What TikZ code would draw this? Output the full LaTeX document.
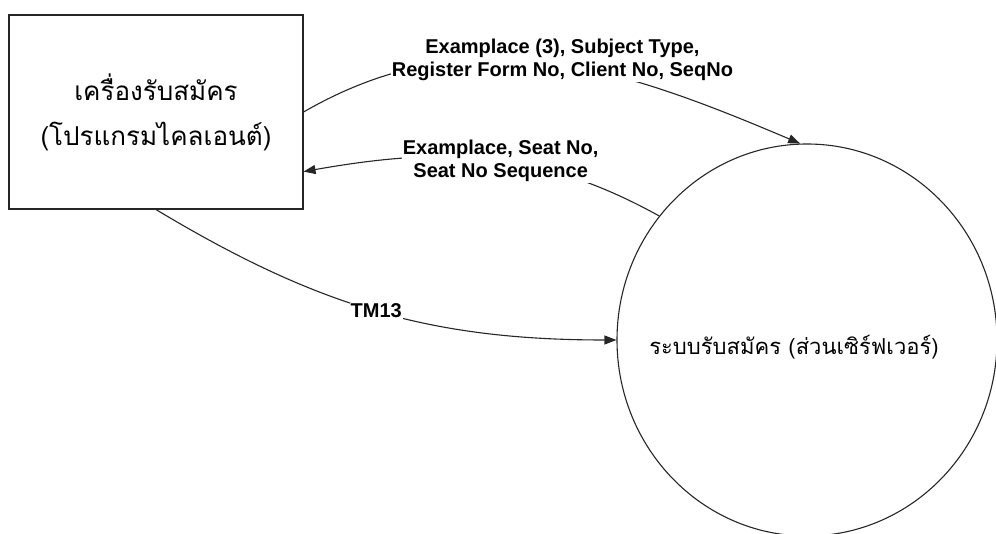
\documentclass[tikz,border=0pt]{standalone}
\usepackage{fontspec}
\setmainfont{Liberation Sans}
\newfontfamily\thaifont[Script=Thai]{Loma}
\usetikzlibrary{arrows.meta,shapes.geometric}

\begin{document}
\begin{tikzpicture}[
  x=1pt, y=1pt,
  proc/.style={draw=black!85, line width=1.1pt},
  flow/.style={draw=black!85, line width=1.1pt, -{Triangle[length=12pt,width=9pt]}},
  msg/.style={fill=white, inner sep=1pt, align=center,
              font=\fontsize{20}{23}\selectfont\bfseries},
  thai/.style={font={\thaifont\fontsize{26}{45}\selectfont}, align=center}
]
  \useasboundingbox (0,0) rectangle (996,533);

  \node[proc, thai, minimum width=294, minimum height=194] (client) at (156,421)
       {เครื่องรับสมัคร\\(โปรแกรมไคลเอนต์)};
  \node[proc, ellipse, minimum width=380, minimum height=392] (srv) at (807,193) {};
  \node[thai, font={\thaifont\fontsize{22}{30}\selectfont}] (srvname) at (794,186)
       {ระบบรับสมัคร (ส่วนเซิร์ฟเวอร์)};

  % client -> server
  \draw[flow] (client.east) to[out=30, in=157]
      node[msg, pos=0.53, yshift=5pt] (req)
           {Examplace (3), Subject Type,\\Register Form No, Client No, SeqNo}
      (srv.92);
  % server -> client
  \draw[flow] (srv.140) to[out=151, in=10]
      node[msg, pos=0.46] (seat) {Examplace, Seat No,\\Seat No Sequence}
      (client.-22.2);
  \draw[flow] (client.south) to[out=-31, in=180]
      node[msg] (tm) {TM13}
      (srv.west);
\end{tikzpicture}
\end{document}
